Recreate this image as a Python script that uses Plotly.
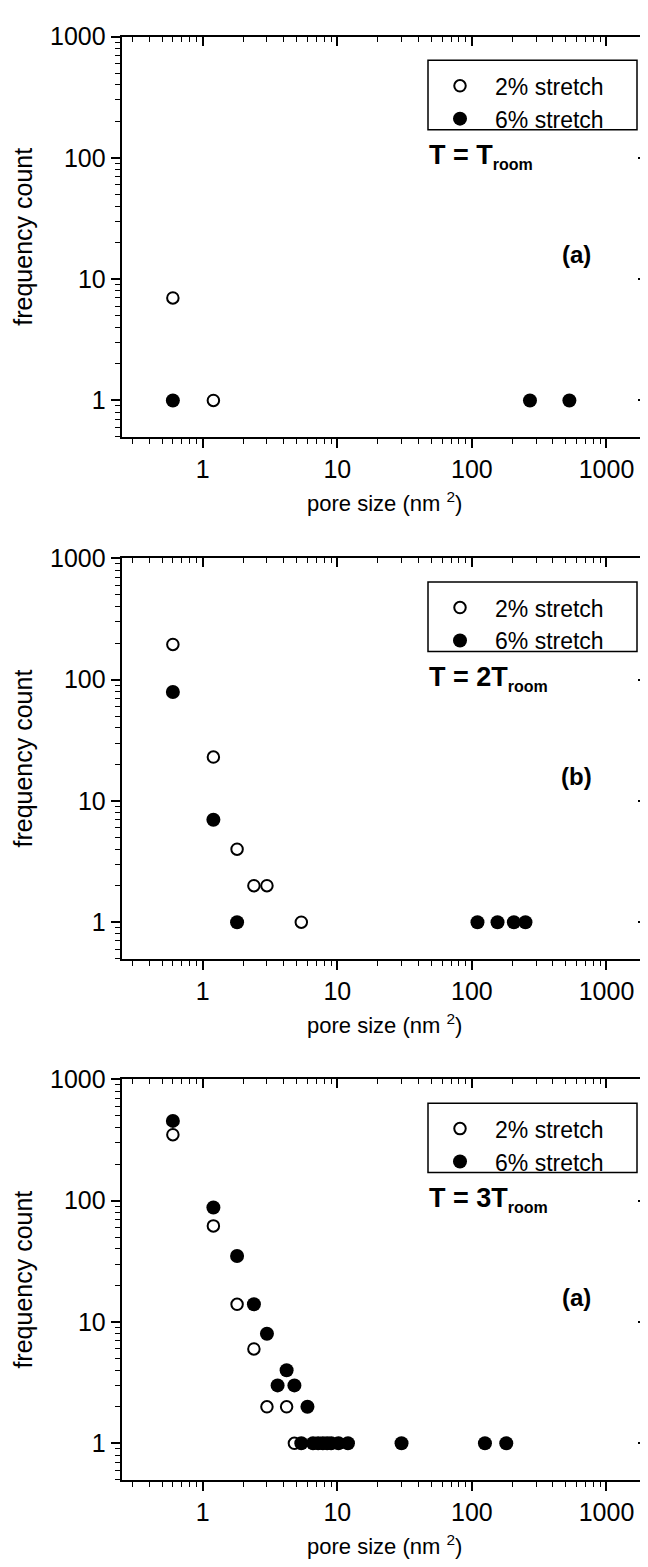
import numpy as np
import plotly.graph_objects as go

# ---------------- data ----------------
series_names = ["2% stretch", "6% stretch"]

# panel (a): T = T_room
pore_a_2 = [0.6, 1.2]
count_a_2 = [7, 1]
pore_a_6 = [0.6, 270, 530]
count_a_6 = [1, 1, 1]

# panel (b): T = 2 T_room
pore_b_2 = [0.6, 1.2, 1.8, 2.4, 3.0, 5.4]
count_b_2 = [195, 23, 4, 2, 2, 1]
pore_b_6 = [0.6, 1.2, 1.8, 110, 155, 205, 250]
count_b_6 = [79, 7, 1, 1, 1, 1, 1]

# panel (c): T = 3 T_room
pore_c_2 = [0.6, 1.2, 1.8, 2.4, 3.0, 4.2, 4.8]
count_c_2 = [350, 62, 14, 6, 2, 2, 1]
pore_c_6 = [0.6, 1.2, 1.8, 2.4, 3.0, 3.6, 4.2, 4.8, 5.4, 6.0, 6.6, 7.2, 7.8,
            8.4, 9.0, 10.2, 12.0, 30, 125, 180]
count_c_6 = [455, 88, 35, 14, 8, 3, 4, 3, 1, 2, 1, 1, 1,
             1, 1, 1, 1, 1, 1, 1]

temp_main = ["T = T", "T = 2T", "T = 3T"]
temp_sub = "room"
panel_tags = ["(a)", "(b)", "(a)"]

major_ticks = [1, 10, 100, 1000]
major_text = ["1", "10", "100", "1000"]
x_minor = [m * 10.0 ** k for k in range(-1, 3) for m in range(2, 10)]
y_minor = [m * 10.0 ** k for k in range(-1, 3) for m in range(2, 10)]

x_title = "pore size (nm <sup>2</sup>)"
y_title = "frequency count"

# ---------------- layout constants (page pixels) ----------------
OFF = 8                     # default body margin of the html page
W, H = 640, 1559            # figure size so that it ends at the page edge
PX_L, PX_R = 121.7, 647.0
PANEL_TOPS = [22.7, 549.2, 1075.0]
PH = 404.0
FONT = "Liberation Sans, Arial, Helvetica, sans-serif"


def fx(p):
    return (p - OFF) / W


def fy(p):
    return 1 - (p - OFF) / H


xrange = [np.log10(0.25), np.log10(2000)]
yrange = [np.log10(0.5), 3.0]

panels = [
    (pore_a_2, count_a_2, pore_a_6, count_a_6),
    (pore_b_2, count_b_2, pore_b_6, count_b_6),
    (pore_c_2, count_c_2, pore_c_6, count_c_6),
]

fig = go.Figure()
layout = {}
shapes = []
annotations = []

axis_common = dict(
    type="log", showline=True, linecolor="black", linewidth=2,
    showgrid=False, zeroline=False, tickcolor="black", tickwidth=1.5,
    ticklen=9, tickmode="array", tickvals=major_ticks, ticktext=major_text,
    tickfont=dict(family=FONT, size=25, color="black"), autorange=False,
)


def minor(vals, side):
    return dict(tickmode="array", tickvals=vals, ticks=side, ticklen=5,
                tickwidth=1.2, tickcolor="black", showgrid=False)


for i, (p2, c2, p6, c6) in enumerate(panels):
    n = i + 1
    xs = "x" if n == 1 else f"x{n}"
    ys = "y" if n == 1 else f"y{n}"
    xk = "xaxis" if n == 1 else f"xaxis{n}"
    yk = "yaxis" if n == 1 else f"yaxis{n}"
    lg = "legend" if n == 1 else f"legend{n}"
    top = PANEL_TOPS[i]
    bot = top + PH

    fig.add_trace(go.Scatter(
        x=p2, y=c2, mode="markers", name=series_names[0], xaxis=xs, yaxis=ys,
        legend=lg,
        marker=dict(symbol="circle", size=11.5, color="white",
                    line=dict(color="black", width=2))))
    fig.add_trace(go.Scatter(
        x=p6, y=c6, mode="markers", name=series_names[1], xaxis=xs, yaxis=ys,
        legend=lg,
        marker=dict(symbol="circle", size=14, color="black",
                    line=dict(color="black", width=0))))
    # empty traces so the mirrored (top/right) axes are drawn
    fig.add_trace(go.Scatter(x=[], y=[], xaxis=f"x{n + 3}", yaxis=ys,
                             showlegend=False, hoverinfo="skip"))
    fig.add_trace(go.Scatter(x=[], y=[], xaxis=xs, yaxis=f"y{n + 3}",
                             showlegend=False, hoverinfo="skip"))

    ydom = [fy(bot), fy(top)]
    layout[xk] = dict(axis_common, domain=[fx(PX_L), fx(PX_R)], range=xrange,
                      anchor=ys, ticks="outside", minor=minor(x_minor, "outside"))
    layout[yk] = dict(axis_common, domain=ydom, range=yrange, anchor=xs,
                      ticks="outside", minor=minor(y_minor, "outside"))
    layout[f"xaxis{n + 3}"] = dict(axis_common, overlaying=xs, anchor=ys,
                                   side="top", range=xrange, ticks="inside",
                                   showticklabels=False,
                                   minor=minor(x_minor, "inside"))
    layout[f"yaxis{n + 3}"] = dict(axis_common, overlaying=ys, anchor=xs,
                                   side="right", range=yrange, ticks="inside",
                                   showticklabels=False,
                                   minor=minor(y_minor, "inside"))

    layout[lg] = dict(
        x=fx(425), xanchor="left", y=fy(top + 28), yanchor="top",
        bgcolor="rgba(0,0,0,0)", borderwidth=0, itemwidth=60,
        font=dict(family=FONT, size=23, color="black"), tracegroupgap=0,
    )
    shapes.append(dict(type="rect", xref="paper", yref="paper",
                       x0=fx(428), x1=fx(637),
                       y0=fy(top + 94), y1=fy(top + 24),
                       line=dict(color="black", width=1.5)))

    annotations.append(dict(
        text=(f"<b>{temp_main[i]}<sub><span style='font-size:16px'>"
              f"{temp_sub}</span></sub></b>"),
        xref="paper", yref="paper",
        x=fx(427), xanchor="left", y=fy(top + 121), yanchor="middle",
        showarrow=False, font=dict(family=FONT, size=27, color="black")))
    annotations.append(dict(
        text=f"<b>{panel_tags[i]}</b>", xref="paper", yref="paper",
        x=fx(576), xanchor="center", y=fy(top + 220), yanchor="middle",
        showarrow=False, font=dict(family=FONT, size=24, color="black")))
    annotations.append(dict(
        text=y_title, xref="paper", yref="paper", x=fx(23), xanchor="center",
        y=fy(top + PH / 2), yanchor="middle", textangle=-90,
        showarrow=False, font=dict(family=FONT, size=25, color="black")))
    annotations.append(dict(
        text=x_title, xref="paper", yref="paper",
        x=fx((PX_L + PX_R) / 2), xanchor="center",
        y=fy(bot + 66), yanchor="middle",
        showarrow=False, font=dict(family=FONT, size=22, color="black")))

fig.update_layout(
    width=W, height=H,
    margin=dict(l=0, r=0, t=0, b=0),
    paper_bgcolor="white", plot_bgcolor="white",
    font=dict(family=FONT, color="black"),
    shapes=shapes, annotations=annotations,
    **layout,
)

fig.write_html("out.html")
